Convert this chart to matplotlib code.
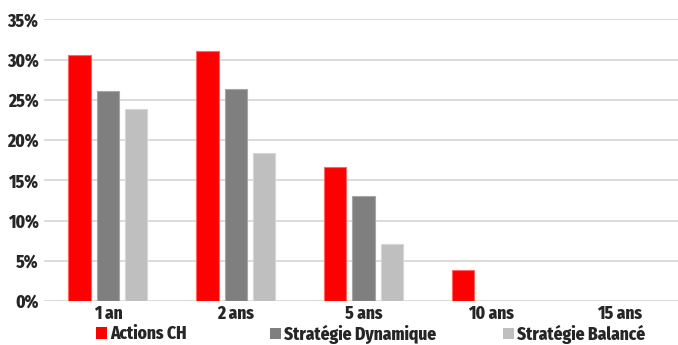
import matplotlib
matplotlib.use("Agg")
import matplotlib.pyplot as plt
import numpy as np
from matplotlib.patches import Patch

plt.rcParams['font.family'] = ['Fira Sans Condensed', 'DejaVu Sans']
plt.rcParams['font.weight'] = 800

categories = ["1 an", "2 ans", "5 ans", "10 ans", "15 ans"]
series_names = ["Actions CH", "Stratégie Dynamique", "Stratégie Balancé"]
actions_ch = [30.6, 31.0, 16.7, 3.8, 0.0]
strat_dynamique = [26.1, 26.4, 13.1, 0.0, 0.0]
strat_balance = [23.9, 18.4, 7.1, 0.0, 0.0]
y_ticks = [0, 5, 10, 15, 20, 25, 30, 35]

colors = ["#ff0000", "#7f7f7f", "#bfbfbf"]
edges = ["#ff6666", "#a6a6a6", "#d6d6d6"]
text_color = "#262626"

fig = plt.figure(figsize=(6.78, 3.45), dpi=100)
ax = fig.add_axes([44 / 678, 1 - 301 / 345, 1 - 44 / 678, (301 - 19.3) / 345])

x = np.arange(len(categories))
width = 0.175
step = 0.222
for i, (vals, c, e) in enumerate(zip([actions_ch, strat_dynamique, strat_balance], colors, edges)):
    v = np.array(vals)
    mask = v > 0
    ax.bar(x[mask] + (i - 1) * step, v[mask], width=width, color=c,
           edgecolor=e, linewidth=0.8, zorder=3)

ax.set_xlim(-0.5, 4.46)
ax.set_ylim(0, 35)
ax.set_yticks(y_ticks)
ax.set_yticklabels([f"{t}%" for t in y_ticks], fontsize=12.5, color=text_color, fontweight=800)
ax.set_xticks(x)
ax.set_xticklabels(categories, fontsize=12.5, color=text_color, fontweight=800)
ax.tick_params(axis='both', length=0)
ax.tick_params(axis='y', pad=4)
ax.tick_params(axis='x', pad=3)
for s in ax.spines.values():
    s.set_visible(False)
ax.grid(axis='y', color="#d9d9d9", linewidth=1.3, zorder=0)
ax.set_axisbelow(True)

legend_x = [96 / 678, 270 / 678, 503 / 678]
for name, c, lx in zip(series_names, colors, legend_x):
    fig.legend(handles=[Patch(facecolor=c, edgecolor='none')], labels=[name],
               loc='center left', bbox_to_anchor=(lx, 1 - 334 / 345),
               frameon=False, handlelength=0.65, handleheight=0.65,
               handletextpad=0.15, borderpad=0, borderaxespad=0,
               prop={'size': 12.5, 'weight': 800}, labelcolor=text_color)

fig.savefig("out.png", dpi=100)
